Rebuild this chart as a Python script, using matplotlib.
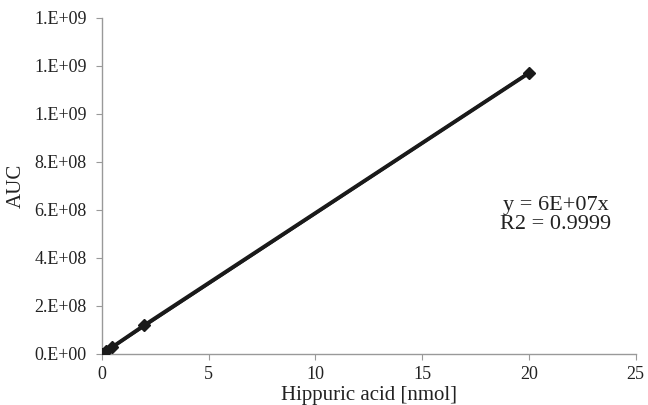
import matplotlib.pyplot as plt
import numpy as np
from matplotlib.ticker import FuncFormatter

plt.rcParams['font.family'] = ['Liberation Serif', 'DejaVu Serif']

# calibration points
conc = [0, 0.2, 0.5, 2, 20]
auc = [0, 1.1e7, 2.9e7, 1.2e8, 1.17e9]

x_ticks = [0, 5, 10, 15, 20, 25]
y_ticks = [0, 2e8, 4e8, 6e8, 8e8, 1.0e9, 1.2e9, 1.4e9]


def excel_fmt(v, pos):
    if v == 0:
        return '0.E+00'
    e = int(np.floor(np.log10(abs(v))))
    m = round(v / 10**e)
    return f'{m:.0f}.E+{e:02d}'


fig = plt.figure(figsize=(6.48, 4.05), dpi=100)
ax = fig.add_axes([0.157, 0.126, 0.824, 0.83])

# trend line through origin
slope = np.sum(np.array(conc) * np.array(auc)) / np.sum(np.array(conc) ** 2)
ax.plot([0, 20], [0, slope * 20], color='#1a1a1a', lw=2.2, zorder=2)
ax.plot(conc, auc, color='#1a1a1a', lw=2.8, marker='D', ms=6, zorder=3)

ax.set_xlim(0, 25)
ax.set_ylim(0, 1.4e9)
ax.set_xticks(x_ticks)
ax.set_yticks(y_ticks)
ax.yaxis.set_major_formatter(FuncFormatter(excel_fmt))

for s in ['top', 'right']:
    ax.spines[s].set_visible(False)
for s in ['left', 'bottom']:
    ax.spines[s].set_color('#999999')
    ax.spines[s].set_linewidth(1.0)
ax.tick_params(axis='both', colors='#999999', labelcolor='#222222',
               labelsize=13, length=4, direction='out')
ax.tick_params(axis='y', pad=7)
ax.tick_params(axis='x', pad=5)

ax.set_xlabel('Hippuric acid [nmol]', fontsize=15, color='#222222', labelpad=2)
ax.set_ylabel('AUC', fontsize=15, color='#222222', labelpad=6)

ax.text(0.85, 0.412, 'y = 6E+07x\nR2 = 0.9999', transform=ax.transAxes,
        ha='center', va='center', fontsize=16, color='#222222', linespacing=1.0)

fig.savefig('out.png', dpi=100)
